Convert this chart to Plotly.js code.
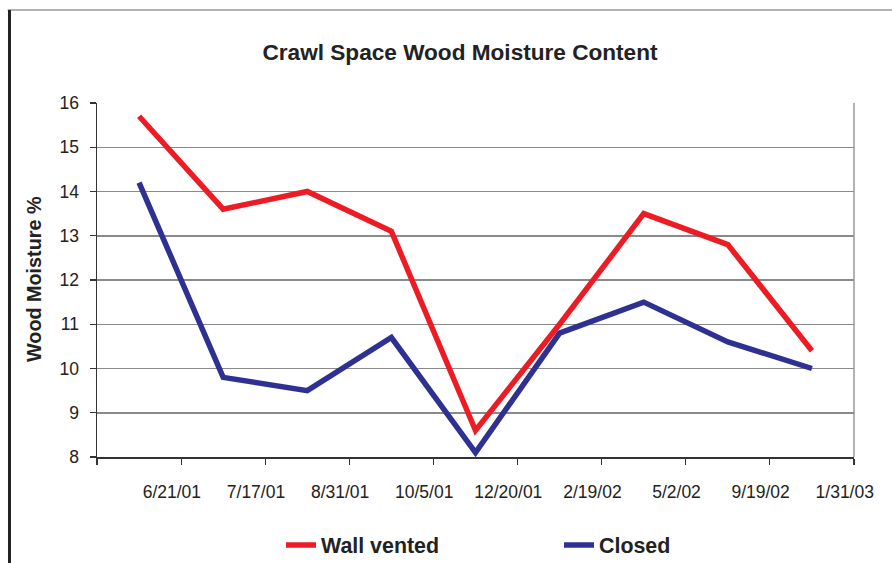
<!DOCTYPE html>
<html>
<head>
<meta charset="utf-8">
<script src="https://cdn.plot.ly/plotly-3.0.1.min.js"></script>
<style>html,body{margin:0;padding:0;background:#fff;}#chart{width:892px;height:563px;}</style>
</head>
<body>
<div id="chart"></div>
<script>
const dates = ["6/21/01","7/17/01","8/31/01","10/5/01","12/20/01","2/19/02","5/2/02","9/19/02","1/31/03"];
const wallVented = [15.7, 13.6, 14.0, 13.1, 8.6, 11.0, 13.5, 12.8, 10.4];
const closed = [14.2, 9.8, 9.5, 10.7, 8.1, 10.8, 11.5, 10.6, 10.0];
const yTicks = [8, 9, 10, 11, 12, 13, 14, 15, 16];

const FONT = "Liberation Sans, Arial, Helvetica, sans-serif";
const idx = dates.map((d, i) => i);
const labelPos = idx.map(i => i + 0.39);
const boundaries = [-0.5].concat(idx.map(i => i + 0.5));

const traces = [
  {x: idx, y: wallVented, name: "Wall vented", type: "scatter", mode: "lines",
   line: {color: "#ED1C24", width: 5.5}},
  {x: idx, y: closed, name: "Closed", type: "scatter", mode: "lines",
   line: {color: "#2E3192", width: 5.5}}
];

const layout = {
  width: 892, height: 563,
  margin: {l: 97, r: 38, t: 103, b: 106},
  paper_bgcolor: "#fff", plot_bgcolor: "#fff",
  font: {family: FONT, size: 17.5, color: "#222"},
  title: {text: "Crawl Space Wood Moisture Content", font: {family: FONT, size: 22.6, weight: "bold", color: "#222"},
          xref: "container", x: 0.5157, yref: "container", y: 0.9076, xanchor: "center", yanchor: "middle"},
  xaxis: {range: [-0.5, 8.5], tickmode: "array", tickvals: labelPos, ticktext: dates,
          ticks: "outside", ticklen: 18, tickcolor: "rgba(0,0,0,0)",
          showgrid: false, zeroline: false, showline: true, linecolor: "#333", linewidth: 1.5,
          minor: {tickmode: "array", tickvals: boundaries, ticks: "outside", ticklen: 6, tickcolor: "#333", tickwidth: 1.2, showgrid: false},
          tickfont: {family: FONT, size: 17.5, color: "#222"}, fixedrange: true},
  yaxis: {range: [8, 16], tickmode: "array", tickvals: yTicks,
          ticks: "outside", ticklen: 6, tickcolor: "#333", tickwidth: 1.2, ticklabelstandoff: 7,
          showgrid: true, gridcolor: "#8a8a8a", gridwidth: 1.5, zeroline: false,
          showline: true, linecolor: "#333", linewidth: 1.5,
          tickfont: {family: FONT, size: 17.5, color: "#222"}, fixedrange: true},
  showlegend: true,
  legend: {orientation: "h", xref: "container", x: 281 / 892, xanchor: "left",
           yref: "container", y: 1 - 545 / 563, yanchor: "middle",
           font: {family: FONT, size: 21.4, weight: "bold", color: "#222"},
           entrywidth: 233, bgcolor: "rgba(0,0,0,0)"},
  annotations: [
    {text: "Wood Moisture %", textangle: -90, xref: "paper", yref: "paper",
     x: -0.084, y: 0.504, xanchor: "center", yanchor: "middle", showarrow: false,
     font: {family: FONT, size: 19.8, weight: "bold", color: "#222"}}
  ],
  shapes: [
    {type: "line", xref: "paper", yref: "paper", x0: 1, x1: 1, y0: 0, y1: 1, line: {color: "#999", width: 1.5}},
    {type: "line", xref: "paper", yref: "paper", x0: -0.118, x1: 1.06, y0: 1.2627, y1: 1.2627, line: {color: "#999", width: 1.5}},
    {type: "line", xref: "paper", yref: "paper", x0: -0.1156, x1: -0.1156, y0: 1.2627, y1: -0.31, line: {color: "#222", width: 3}}
  ]
};

Plotly.newPlot("chart", traces, layout, {displayModeBar: false, staticPlot: true});
</script>
</body>
</html>
